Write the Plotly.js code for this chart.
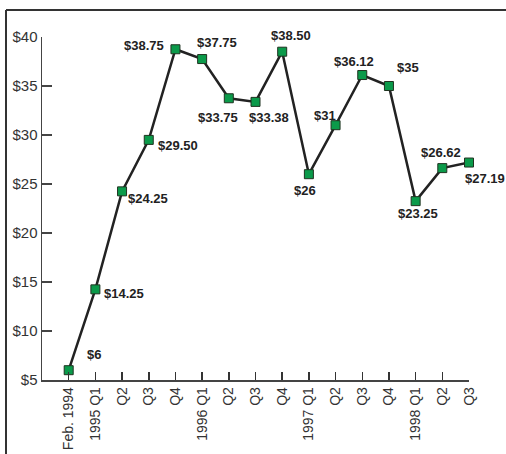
<!DOCTYPE html>
<html>
<head>
<meta charset="utf-8">
<script src="https://cdn.plot.ly/plotly-3.0.1.min.js"></script>
<style>html,body{margin:0;padding:0;background:#fff;}#chart{width:506px;height:454px;}</style>
</head>
<body>
<div id="chart"></div>
<script>
// Data
var categories = ["Feb. 1994","1995 Q1","Q2","Q3","Q4","1996 Q1","Q2","Q3","Q4","1997 Q1","Q2","Q3","Q4","1998 Q1","Q2","Q3"];
var prices = [6, 14.25, 24.25, 29.50, 38.75, 37.75, 33.75, 33.38, 38.50, 26, 31, 36.12, 35, 23.25, 26.62, 27.19];
var priceLabels = ["$6","$14.25","$24.25","$29.50","$38.75","$37.75","$33.75","$33.38","$38.50","$26","$31","$36.12","$35","$23.25","$26.62","$27.19"];

// Label offsets in pixels (style only)
var labelShift = [[25,16],[29,-4],[26,-7],[29,-6],[-31,4],[15,17],[-11,-19],[13,-16],[9,16],[-4,-16],[-11,10],[-8,14],[19,19],[2,-12],[-1,16],[16,-16]];

var xs = categories.map(function(_, i){ return i; });

var trace = {
  x: xs, y: prices, type: 'scatter', mode: 'lines+markers',
  line: {color: '#222222', width: 2.5},
  marker: {symbol: 'square', size: 9, color: '#0b9a4a', line: {color: '#1f3320', width: 1}},
  hoverinfo: 'skip', cliponaxis: false
};

var annotations = prices.map(function(v, i){
  return {x: i, y: v, xref: 'x', yref: 'y', text: priceLabels[i], showarrow: false,
    xshift: labelShift[i][0], yshift: labelShift[i][1],
    font: {family: 'Liberation Sans, Arial, sans-serif', size: 13, color: '#222222', weight: 'bold'}};
});

var layout = {
  width: 506, height: 454,
  margin: {l: 42, r: 37, t: 37, b: 74},
  paper_bgcolor: '#ffffff', plot_bgcolor: '#ffffff',
  showlegend: false,
  font: {family: 'Liberation Sans, Arial, sans-serif', color: '#333333'},
  xaxis: {
    range: [-1, 15], tickmode: 'array', tickvals: xs, ticktext: categories,
    tickangle: -90, ticks: 'inside', ticklen: 8, tickwidth: 1.5, tickcolor: '#333333',
    showline: true, linecolor: '#444444', linewidth: 1.5, showgrid: false, zeroline: false,
    tickfont: {size: 14, color: '#333333'}, fixedrange: true
  },
  yaxis: {
    range: [5, 40], tickmode: 'linear', tick0: 5, dtick: 5, tickprefix: '$',
    ticks: 'inside', ticklen: 10, tickwidth: 1.5, tickcolor: '#444444',
    showline: true, linecolor: '#444444', linewidth: 1.5, showgrid: false, zeroline: false,
    tickfont: {size: 15, color: '#333333'}, fixedrange: true
  },
  annotations: annotations,
  shapes: [
    {type: 'line', xref: 'paper', yref: 'paper', x0: -0.0843, x1: 1.09, y0: 1.0787, y1: 1.0787, line: {color: '#333333', width: 2}},
    {type: 'line', xref: 'paper', yref: 'paper', x0: -0.0843, x1: -0.0843, y0: 1.0787, y1: -0.23, line: {color: '#333333', width: 2}}
  ]
};

Plotly.newPlot('chart', [trace], layout, {displayModeBar: false, staticPlot: true});
</script>
</body>
</html>
